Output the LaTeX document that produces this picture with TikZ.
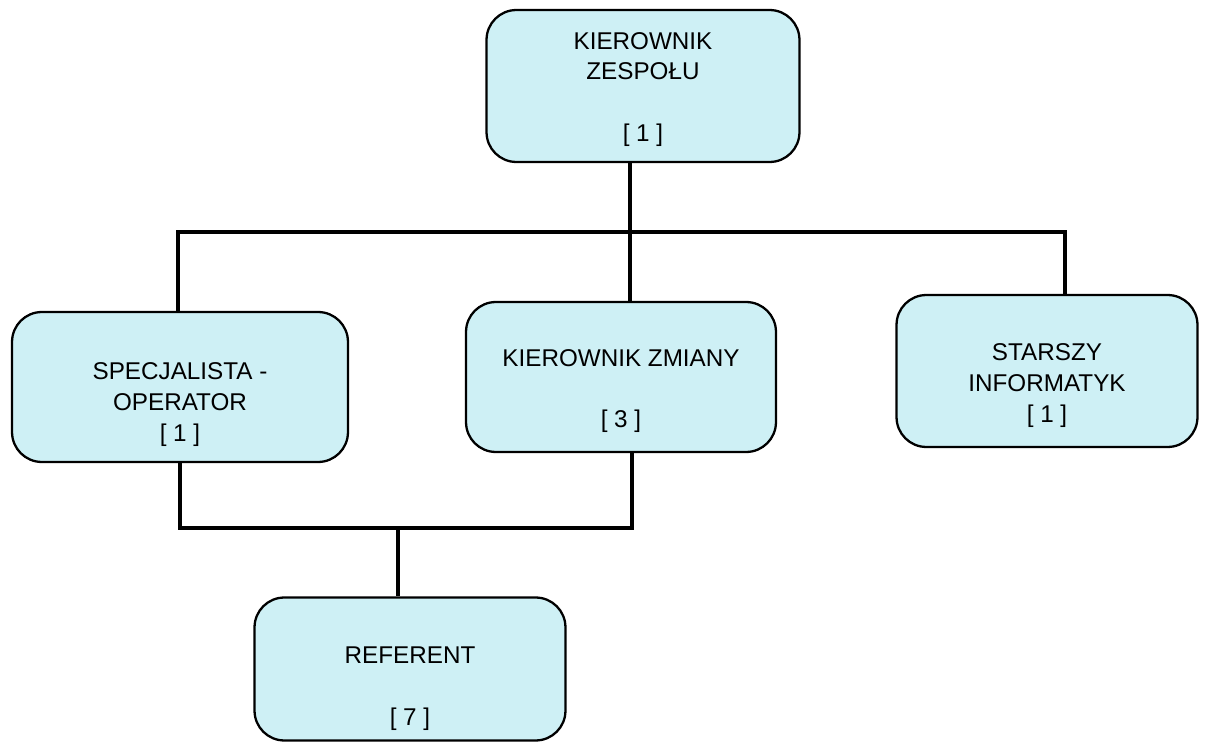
\documentclass[tikz,border=0pt]{standalone}
\usepackage{fontspec}
\setmainfont{Liberation Sans}
\usepackage{tikz}
\usetikzlibrary{positioning,calc}
\definecolor{boxfill}{RGB}{206,240,245}

\begin{document}
\begin{tikzpicture}[x=0.02cm, y=-0.02cm,
  unit/.style={draw, line width=1.3pt, fill=boxfill, rounded corners=17pt, inner sep=0pt},
  lbl/.style={align=center, font=\fontsize{13.8}{17.6}\selectfont, inner sep=0pt},
  conn/.style={line width=2pt}]
\useasboundingbox (0,0) rectangle (1211,743);
\node[unit, minimum width=6.26cm, minimum height=3.04cm] (top) at (643,86) {};
\node[unit, minimum width=6.72cm, minimum height=3.0cm] (spec) at (180,387) {};
\node[unit, minimum width=6.2cm, minimum height=3.0cm] (kz) at (621,377) {};
\node[unit, minimum width=6.02cm, minimum height=3.04cm] (star) at (1047,371) {};
\node[unit, minimum width=6.22cm, minimum height=2.86cm] (ref) at (410,669) {};
\node[lbl] (topt) at ([yshift=-2pt]top) {KIEROWNIK\\ZESPOŁU\\[17.6pt]{[ 1 ]}};
\node[lbl] (spect) at ([yshift=-10pt]spec) {SPECJALISTA -\\OPERATOR\\{[ 1 ]}};
\node[lbl] (kzt) at ([yshift=-8pt]kz) {KIEROWNIK ZMIANY\\[17.6pt]{[ 3 ]}};
\node[lbl] (start) at ([yshift=-8.5pt]star) {STARSZY\\INFORMATYK\\{[ 1 ]}};
\node[lbl] (reft) at ([yshift=-11pt]ref) {REFERENT\\[17.6pt]{[ 7 ]}};
\coordinate (hub) at (630,232);
\coordinate (low) at (398,528);
\draw[conn] (hub |- top.south) -- (hub |- kz.north);
\draw[conn] (178,0 |- spec.north) |- (hub) -| (1065,0 |- star.north);
\draw[conn] (spec.south) |- (low) -| (632,0 |- kz.south);
\draw[conn] (low) -- (low |- ref.north);
\end{tikzpicture}
\end{document}
